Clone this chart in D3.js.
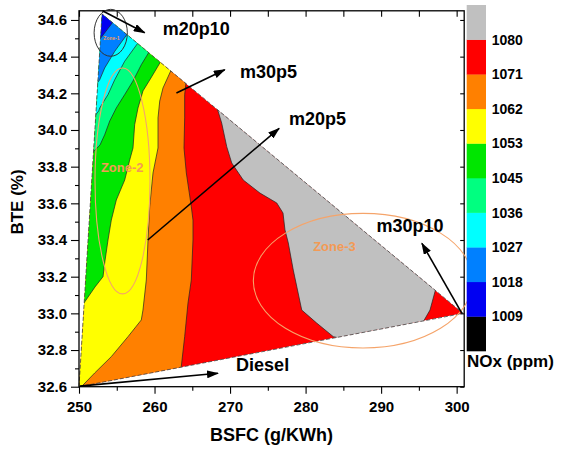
<!DOCTYPE html>
<html>
<head>
<meta charset="utf-8">
<script src="https://cdn.jsdelivr.net/npm/d3@7"></script>
<style>
  body { margin: 0; background: #fff; }
  svg { font-family: "Liberation Sans", Arial, sans-serif; font-weight: bold; }
</style>
</head>
<body>
<svg id="chart"></svg>
<script>
"use strict";
// ---- data (BSFC g/KWh, BTE %) ----
const xTicks = [250, 260, 270, 280, 290, 300];
const xMinor = [255, 265, 275, 285, 295];
const yTicks = [32.6, 32.8, 33.0, 33.2, 33.4, 33.6, 33.8, 34.0, 34.2, 34.4, 34.6];
const yMinor = [32.7, 32.9, 33.1, 33.3, 33.5, 33.7, 33.9, 34.1, 34.3, 34.5];
const noxLevels = [1009, 1018, 1027, 1036, 1045, 1053, 1062, 1071, 1080];
const bandColors = ["#000000", "#0000f2", "#0080ff", "#00ffff", "#00ff80",
                    "#00e600", "#ffff00", "#ff8000", "#ff0000", "#c0c0c0"];

// design space (triangle of blends)
const triangle = [[250, 32.6], [253.05, 34.633], [300.85, 33.0]];

// contour lines, from top edge to left/bottom edge
const contour1018 = [[255.5, 34.70], [254.50, 34.589], [252.98, 34.507], [252.2, 34.47]];
const contour1027 = [[257.5, 34.60], [256.49, 34.529], [254.73, 34.429], [253.40, 34.338],
  [252.74, 34.274], [251.8, 34.22]];
const contour1036 = [[259.0, 34.55], [257.81, 34.475], [256.05, 34.375], [254.73, 34.274],
  [253.84, 34.193], [252.74, 34.12], [252.61, 34.104], [251.6, 34.05]];
const contour1045 = [[260.5, 34.50], [259.36, 34.431], [258.25, 34.356], [257.15, 34.267],
  [256.05, 34.193], [254.94, 34.12], [254.07, 34.049], [253.40, 33.974], [252.78, 33.918],
  [252.12, 33.891], [251.2, 33.85]];
const contour1053 = [[262.0, 34.45], [260.86, 34.376], [259.53, 34.284], [258.47, 34.213],
  [257.81, 34.12], [257.37, 34.029], [257.15, 33.902], [256.71, 33.836], [256.05, 33.727],
  [254.94, 33.618], [254.28, 33.509], [253.84, 33.40], [253.40, 33.275], [253.18, 33.20],
  [252.12, 33.144], [250.75, 33.062], [249.8, 33.0]];
const contour1062 = [[263.5, 34.40], [262.22, 34.329], [261.12, 34.229], [260.69, 34.158],
  [260.46, 34.066], [260.46, 33.902], [259.80, 33.766], [259.36, 33.582], [259.14, 33.40],
  [258.91, 33.182], [258.47, 33.018], [258.25, 32.964], [256.49, 32.873], [254.28, 32.764],
  [252.08, 32.675], [250.53, 32.609], [249.8, 32.55]];
const contour1071 = [[264.4, 34.40], [264.21, 34.274], [263.99, 34.193], [263.99, 34.066],
  [263.90, 33.902], [264.21, 33.766], [264.87, 33.582], [265.09, 33.509], [265.09, 33.40],
  [264.87, 33.182], [264.43, 33.056], [263.99, 32.873], [263.54, 32.709], [263.4, 32.55]];
const contour1080 = [[267.8, 34.25], [268.23, 34.127], [268.89, 34.038], [269.56, 33.909],
  [270.22, 33.82], [271.75, 33.727], [273.96, 33.656], [276.18, 33.602], [277.01, 33.547],
  [277.27, 33.455], [277.71, 33.384], [278.37, 33.236], [279.49, 33.018], [281.47, 32.947],
  [283.67, 32.873], [284.12, 32.869], [284.3, 32.8]];
const contour1080b = [[297.6, 33.2], [297.13, 33.118], [296.47, 33.018], [295.59, 32.955],
  [295.3, 32.88]];

// annotations (blend names, arrows, zones)
const notes = [
  {text: "m20p10", at: [261.1, 34.518], from: [253.1, 34.65], to: [258.7, 34.53]},
  {text: "m30p5",  at: [271.3, 34.284], from: [262.9, 34.202], to: [269.3, 34.329]},
  {text: "m20p5",  at: [277.8, 34.027], from: [259.1, 33.40], to: [276.5, 34.009]},
  {text: "m30p10", at: [289.4, 33.444], from: [300.7, 33.0], to: [295.4, 33.382]},
  {text: "Diesel", at: [270.8, 32.686], from: [250.1, 32.603], to: [268.4, 32.673]}
];
const zones = [
  {text: "Zone-2", at: [252.9, 33.771], c: [255.76, 33.722], r: [3.64, 0.616], size: 13},
  {text: "Zone-3", at: [281.0, 33.34], c: [287.6, 33.178], r: [14.52, 0.367], size: 13},
  {text: "Zone-1", at: [253.2, 34.491], c: [254.2, 34.53], r: [2.2, 0.128], size: 5}
];

const margin = {top: 10.8, left: 79},
    width  = 385.2,
    height = 375.9;

const svg = d3.select("#chart").attr("width", 562).attr("height", 450);

const x = d3.scaleLinear().domain([250, 301]).range([0, width]);
const y = d3.scaleLinear().domain([32.6, 34.65]).range([height, 0]);
const line = d3.line().x(d => x(d[0])).y(d => y(d[1]));

const defs = svg.append("defs");
defs.append("clipPath").attr("id", "tri")
  .append("path").attr("d", line(triangle) + "Z");
defs.append("marker")
    .attr("id", "arrow")
    .attr("viewBox", "0 0 12 8")
    .attr("refX", 11).attr("refY", 4)
    .attr("markerWidth", 12).attr("markerHeight", 8)
    .attr("markerUnits", "userSpaceOnUse")
    .attr("orient", "auto")
  .append("path").attr("d", "M0,0L12,4L0,8Z").attr("fill", "#000");

const g = svg.append("g")
    .attr("transform", "translate(" + margin.left + "," + margin.top + ")");

// ---- filled contour bands, painted from high to low ----
const plot = g.append("g").attr("clip-path", "url(#tri)");
const farTop = [245, 35.0], farBottom = [245, 32.3];

plot.append("path").attr("d", line(triangle) + "Z").attr("fill", bandColors[8]);
plot.append("path")
    .attr("d", line(contour1080.concat(contour1080b.slice().reverse())) + "Z")
    .attr("fill", bandColors[9]);

const lowerBands = [
  [contour1071, 7], [contour1062, 6], [contour1053, 5], [contour1045, 4],
  [contour1036, 3], [contour1027, 2], [contour1018, 1]
];
lowerBands.forEach(([c, i]) => {
  plot.append("path")
      .attr("d", line(c.concat([farBottom, farTop])) + "Z")
      .attr("fill", bandColors[i]);
});

// contour lines
[contour1018, contour1027, contour1036, contour1045, contour1053,
 contour1062, contour1071, contour1080, contour1080b].forEach(c => {
  plot.append("path").attr("d", line(c))
      .attr("fill", "none").attr("stroke", "#222").attr("stroke-width", 0.7);
});

// triangle outline
g.append("path").attr("d", line(triangle) + "Z")
    .attr("fill", "none").attr("stroke", "#444")
    .attr("stroke-width", 0.8).attr("stroke-dasharray", "4,2");

// ---- axes ----
function clean(sel) {
  sel.select(".domain").remove();
  sel.selectAll("line").attr("stroke", "#000").attr("stroke-width", 1.1);
  sel.selectAll("text").attr("fill", "#000").style("font-size", "15px")
     .style("font-family", "'Liberation Sans', Arial, sans-serif").style("font-weight", "bold");
}
g.append("g").attr("transform", `translate(0, ${height})`)
    .call(d3.axisBottom(x).tickValues(xTicks).tickSize(7).tickPadding(8))
    .call(clean);
g.append("g").attr("transform", `translate(0, ${height})`)
    .call(d3.axisBottom(x).tickValues(xMinor).tickSize(4).tickFormat(""))
    .call(clean);
g.append("g")
    .call(d3.axisLeft(y).tickValues(yTicks).tickSize(8).tickPadding(4)
      .tickFormat(d3.format(".1f")))
    .call(clean);
g.append("g")
    .call(d3.axisLeft(y).tickValues(yMinor).tickSize(4).tickFormat(""))
    .call(clean);
g.append("g")
    .call(d3.axisTop(x).tickValues(xTicks.concat(xMinor)).tickSize(-6).tickFormat(""))
    .call(clean);
g.append("g").attr("transform", `translate(${width}, 0)`)
    .call(d3.axisRight(y).tickValues(yTicks).tickSize(-4).tickFormat(""))
    .call(clean);

g.append("rect")
    .attr("width", width).attr("height", height)
    .attr("fill", "none").attr("stroke", "#000").attr("stroke-width", 1.3);

// axis titles
svg.append("text")
    .attr("x", margin.left + width / 2).attr("y", 441)
    .attr("text-anchor", "middle").style("font-size", "18px")
    .text("BSFC (g/KWh)");
svg.append("text")
    .attr("transform", "translate(23," + 202 + ") rotate(-90)")
    .attr("text-anchor", "middle").style("font-size", "17px")
    .text("BTE (%)");

// ---- zones ----
zones.forEach(z => {
  g.append("ellipse")
      .attr("cx", x(z.c[0])).attr("cy", y(z.c[1]))
      .attr("rx", x(z.c[0] + z.r[0]) - x(z.c[0]))
      .attr("ry", y(z.c[1]) - y(z.c[1] + z.r[1]))
      .attr("fill", "none")
      .attr("stroke", z.size < 8 ? "#333" : "#f5a46a")
      .attr("stroke-width", z.size < 8 ? 1 : 1.1);
  g.append("text")
      .attr("x", x(z.at[0])).attr("y", y(z.at[1]))
      .attr("fill", "#f39a55").style("font-size", z.size + "px")
      .text(z.text);
});

// ---- blend labels and arrows ----
notes.forEach(n => {
  g.append("line")
      .attr("x1", x(n.from[0])).attr("y1", y(n.from[1]))
      .attr("x2", x(n.to[0])).attr("y2", y(n.to[1]))
      .attr("stroke", "#000").attr("stroke-width", 1.6)
      .attr("marker-end", "url(#arrow)");
  g.append("text")
      .attr("x", x(n.at[0])).attr("y", y(n.at[1]))
      .style("font-size", "18px")
      .text(n.text);
});

// ---- colour bar ----
const cb = d3.scaleLinear().domain([0, 10]).range([351, 5]);
const bar = svg.append("g").attr("transform", "translate(466.7,0)");
bar.selectAll("rect")
    .data(bandColors)
  .enter().append("rect")
    .attr("x", 0).attr("width", 19.3)
    .attr("y", (d, i) => cb(i + 1))
    .attr("height", (d, i) => cb(i) - cb(i + 1) + 0.3)
    .attr("fill", d => d);
bar.selectAll(".lvl")
    .data(noxLevels)
  .enter().append("text")
    .attr("class", "lvl")
    .attr("x", 25).attr("y", (d, i) => cb(i + 1))
    .attr("dy", "0.36em")
    .style("font-size", "14px")
    .text(d => d);
svg.append("text")
    .attr("x", 467).attr("y", 367)
    .style("font-size", "17px")
    .text("NOx (ppm)");
</script>
</body>
</html>
